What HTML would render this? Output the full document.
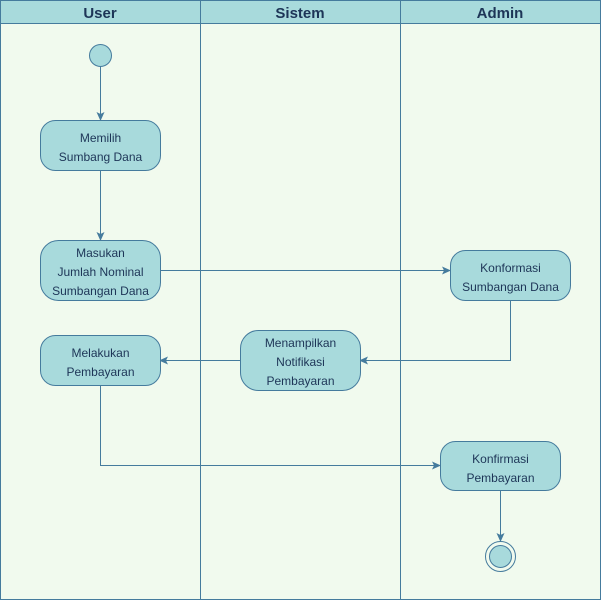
<!DOCTYPE html>
<html><head><style>body{margin:0;background:#fff}</style></head><body>
<svg width="601" height="601" xmlns="http://www.w3.org/2000/svg" font-family="Liberation Sans, sans-serif">
<defs><marker id="a" markerWidth="10" markerHeight="10" refX="8" refY="4" orient="auto" markerUnits="userSpaceOnUse"><path d="M0,0 L9,4 L0,8 L2,4 Z" fill="#457b9d"/></marker></defs>
<rect x="0.5" y="0.5" width="600" height="599" fill="#f1faee" stroke="#457b9d"/>
<rect x="0.5" y="0.5" width="600" height="23" fill="#a8dadc" stroke="#457b9d"/>
<line x1="200.5" y1="0" x2="200.5" y2="600" stroke="#457b9d"/>
<line x1="400.5" y1="0" x2="400.5" y2="600" stroke="#457b9d"/>
<g font-size="15" font-weight="bold" fill="#1d3557" text-anchor="middle">
<text x="100" y="18">User</text><text x="300" y="18">Sistem</text><text x="500" y="18">Admin</text></g>
<g stroke="#457b9d" stroke-width="1" fill="none" marker-end="url(#a)">
<path d="M100.5,66 V120"/><path d="M100.5,170 V240"/><path d="M160,270.5 H450"/>
<path d="M510.5,300 V360.5 H360"/><path d="M240,360.5 H160"/>
<path d="M100.5,385 V465.5 H440"/><path d="M500.5,490 V541"/></g>
<g fill="#a8dadc" stroke="#457b9d">
<circle cx="100.5" cy="55.5" r="11"/>
<rect x="40.5" y="120.5" width="120" height="50" rx="15"/>
<rect x="40.5" y="240.5" width="120" height="60" rx="18"/>
<rect x="450.5" y="250.5" width="120" height="50" rx="15"/>
<rect x="240.5" y="330.5" width="120" height="60" rx="18"/>
<rect x="40.5" y="335.5" width="120" height="50" rx="15"/>
<rect x="440.5" y="441.5" width="120" height="49" rx="15"/>
<circle cx="500.5" cy="556.5" r="15" fill="none"/>
<circle cx="500.5" cy="556.5" r="11"/></g>
<g font-size="12" fill="#1d3557" text-anchor="middle">
<text x="100.5" y="142">Memilih</text><text x="100.5" y="161">Sumbang Dana</text>
<text x="100.5" y="257">Masukan</text><text x="100.5" y="276">Jumlah Nominal</text><text x="100.5" y="295">Sumbangan Dana</text>
<text x="510.5" y="272">Konformasi</text><text x="510.5" y="291">Sumbangan Dana</text>
<text x="300.5" y="347">Menampilkan</text><text x="300.5" y="366">Notifikasi</text><text x="300.5" y="385">Pembayaran</text>
<text x="100.5" y="357">Melakukan</text><text x="100.5" y="376">Pembayaran</text>
<text x="500.5" y="463">Konfirmasi</text><text x="500.5" y="482">Pembayaran</text></g>
</svg>
</body></html>
